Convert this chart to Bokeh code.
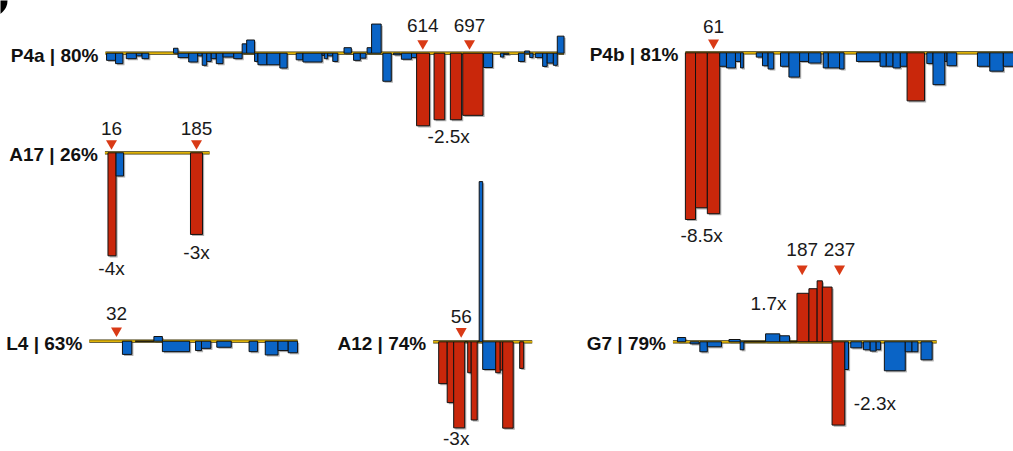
from bokeh.plotting import figure
from bokeh.models import Range1d
from bokeh.core.properties import value
from bokeh.embed import file_html
from bokeh.resources import INLINE

# ---------------------------------------------------------------------------
# Peptide-level changes along each protein: segment start/end (residue),
# log2 fold change and whether the change is significant (1) or not (0).
# ---------------------------------------------------------------------------
names = ["P4a", "P4b", "A17", "A12", "L4", "G7"]
coverage = [80, 81, 26, 74, 63, 79]
seq_first = [50, 11, 3, 0, 0, 14]
seq_last = [865, 600, 211, 198, 245, 367]

p4a_start = [52, 68, 87, 105, 115, 171, 179, 198, 214, 222, 230, 238, 247, 259, 278,
             293, 301, 315, 321, 337, 360, 389, 401, 435, 439, 445, 454, 474, 491, 503,
             515, 523, 543, 562, 576, 594, 603, 634, 663, 685, 722, 752, 758, 784, 795,
             804, 814, 827, 835, 846, 853]
p4a_end = [68, 81, 105, 115, 127, 179, 198, 214, 222, 230, 238, 247, 259, 278, 293,
           301, 315, 321, 337, 360, 373, 401, 435, 439, 445, 454, 463, 487, 503, 513,
           523, 540, 558, 574, 594, 603, 626, 653, 683, 721, 738, 758, 767, 795, 804,
           810, 827, 835, 846, 853, 865]
p4a_lfc = [-0.13, -0.19, -0.10, -0.05, -0.10, 0.09, -0.08, -0.16, -0.05, -0.22,
           -0.15, -0.10, -0.19, -0.07, -0.10, 0.17, 0.24, -0.15, -0.21, -0.21,
           -0.27, -0.12, -0.16, -0.04, -0.10, -0.05, -0.15, 0.10, -0.13, -0.09,
           0.10, 0.53, -0.51, -0.03, -0.11, -0.08, -1.32, -1.21, -1.21, -1.13,
           -0.26, -0.07, -0.02, -0.15, 0.04, -0.08, -0.08, -0.24, -0.18, -0.22, 0.31]
p4a_hit = [0, 0, 0, 0, 0, 0, 0, 0, 0, 0, 0, 0, 0, 0, 0, 0, 0, 0, 0, 0, 0, 0, 0, 0, 0,
           0, 0, 0, 0, 0, 0, 0, 0, 0, 0, 0, 1, 1, 1, 1, 0, 0, 0, 0, 0, 0, 0, 0, 0, 0, 0]
p4a_marks = [614, 697]

p4b_start = [11, 29, 50, 72, 84, 100, 109, 137, 148, 158, 180, 195, 214, 230, 256,
             265, 285, 315, 357, 368, 380, 393, 405, 440, 451, 472, 476, 530, 552, 576]
p4b_end = [29, 50, 72, 84, 100, 109, 114, 148, 158, 168, 195, 214, 230, 252, 265,
           285, 293, 357, 368, 380, 393, 405, 436, 451, 472, 476, 493, 552, 576, 600]
p4b_lfc = [-3.087, -2.87, -2.98, -0.25, -0.28, -0.16, -0.28, -0.08, -0.24, -0.30,
           -0.25, -0.45, -0.16, -0.19, -0.28, -0.28, -0.30, -0.16, -0.25, -0.25,
           -0.28, -0.25, -0.89, -0.20, -0.59, -0.16, -0.24, -0.25, -0.34, -0.25]
p4b_hit = [1, 1, 1, 0, 0, 0, 0, 0, 0, 0, 0, 0, 0, 0, 0,
           0, 0, 0, 0, 0, 0, 0, 1, 0, 0, 0, 0, 0, 0, 0]
p4b_marks = [61]

a17_start = [9, 25, 173]
a17_end = [25, 40, 197]
a17_lfc = [-2.0, -0.45, -1.585]
a17_hit = [1, 0, 1]
a17_marks = [16, 185]

a12_start = [11, 28, 41, 63, 69, 76, 88, 92, 99, 125, 134, 139, 173]
a12_end = [28, 41, 63, 69, 76, 88, 92, 99, 125, 134, 139, 160, 181]
a12_lfc = [-0.77, -1.12, -1.585, 0.0, -0.57, -1.44, 0.0, 2.95, -0.51, -0.57, -0.52,
           -1.59, -0.49]
a12_hit = [1, 1, 1, 0, 1, 1, 0, 0, 0, 1, 1, 1, 1]
a12_marks = [56]

l4_start = [39, 54, 76, 86, 125, 132, 150, 188, 207, 222, 234]
l4_end = [50, 76, 86, 118, 132, 143, 167, 198, 222, 234, 245]
l4_lfc = [-0.24, 0.0, 0.085, -0.19, -0.17, -0.13, -0.11, -0.19, -0.25, -0.17, -0.21]
l4_hit = [0, 0, 0, 0, 0, 0, 0, 0, 0, 0, 0]
l4_marks = [32]

g7_start = [20, 37, 50, 60, 89, 104, 109, 138, 157, 170, 180, 196, 207, 214, 227,
            244, 252, 269, 278, 286, 297, 325, 334, 346]
g7_end = [31, 49, 60, 79, 104, 109, 138, 157, 170, 180, 196, 207, 214, 227, 244,
          249, 267, 278, 286, 292, 325, 334, 342, 361]
g7_lfc = [0.062, -0.03, -0.144, -0.072, 0.033, -0.115, 0.0, 0.115, 0.087, 0.0,
          0.70, 0.766, 0.88, 0.79, -1.2016, -0.40, -0.087, -0.115, -0.134, -0.115,
          -0.418, -0.144, -0.144, -0.26]
g7_hit = [0, 0, 0, 0, 0, 0, 0, 0, 0, 0, 1, 1, 1, 1, 1, 0, 0, 0, 0, 0, 0, 0, 0, 0]
g7_marks = [187, 237]

segments = {
    "P4a": (p4a_start, p4a_end, p4a_lfc, p4a_hit, p4a_marks),
    "P4b": (p4b_start, p4b_end, p4b_lfc, p4b_hit, p4b_marks),
    "A17": (a17_start, a17_end, a17_lfc, a17_hit, a17_marks),
    "A12": (a12_start, a12_end, a12_lfc, a12_hit, a12_marks),
    "L4": (l4_start, l4_end, l4_lfc, l4_hit, l4_marks),
    "G7": (g7_start, g7_end, g7_lfc, g7_hit, g7_marks),
}

# ---------------------------------------------------------------------------
# Track placement on the page: x0 = pixel of residue 0, ppr = pixels per
# residue, y0 = pixel row of the zero line, ppu = pixels per log2 unit,
# arrow / num = lift (px) of the residue marker and of its number's centre.
# ---------------------------------------------------------------------------
W, H = 1013, 451
tracks = {
    "P4a": dict(x0=76.8, ppr=0.5627, y0=52.7, ppu=55.0, arrow=9.7, num=27.5),
    "P4b": dict(x0=678.7, ppr=0.5627, y0=52.3, ppu=54.0, arrow=10.0, num=26.5),
    "A17": dict(x0=102.95, ppr=0.503, y0=152.3, ppu=51.5, arrow=9.3, num=24.0),
    "A12": dict(x0=432.7, ppr=0.5, y0=341.3, ppu=54.3, arrow=10.5, num=25.5),
    "L4": dict(x0=88.8, ppr=0.85, y0=340.7, ppu=55.0, arrow=10.5, num=28.0),
    "G7": dict(x0=662.0, ppr=0.747, y0=341.3, ppu=69.3, arrow=73.0, num=92.0),
}
# fold-change tags: (segment index, residue x, px from bar end to text centre, alignment)
fold_tags = {
    "P4a": [(36, 660, 10.5, "center")],
    "P4b": [(0, 40, 16.5, "center")],
    "A17": [(0, 16, 13.0, "center"), (2, 185, 18.0, "center")],
    "A12": [(2, 46, 11.0, "center")],
    "L4": [],
    "G7": [(11, 166, 14.4, "right"), (14, 256, -21.6, "left")],
}

BLUE = "#0a64c6"
RED = "#c9270b"
ARROW = "#d93a16"
SHADOW = "#9c9c9c"
FONT = value("Liberation Sans")
FSIZE = "19px"


def fold_text(v):
    f = 2 ** abs(v)
    s = f"{f:.1f}".rstrip("0").rstrip(".")
    return ("-" if v < 0 else "") + s + "x"


p = figure(width=W, height=H, x_range=Range1d(0, W), y_range=Range1d(H, 0),
           output_backend="svg", toolbar_location=None, min_border=0,
           x_axis_location=None, y_axis_location=None, outline_line_color=None)
p.grid.visible = False
p.background_fill_color = "white"
p.border_fill_color = "white"

xr, yr = {}, {}
for name in names:
    t = tracks[name]
    xr[name] = Range1d(-t["x0"] / t["ppr"], (W - t["x0"]) / t["ppr"])
    yr[name] = Range1d((t["y0"] - H) / t["ppu"], t["y0"] / t["ppu"])
xr["page"] = Range1d(0, W)
yr["page"] = Range1d(H, 0)
p.extra_x_ranges = xr
p.extra_y_ranges = yr

for i, name in enumerate(names):
    t = tracks[name]
    start, end, lfc, hit, marks = segments[name]
    rn = dict(x_range_name=name, y_range_name=name)
    top = [max(v, 0.0) for v in lfc]
    bottom = [min(v, 0.0) for v in lfc]
    colors = [RED if h else BLUE for h in hit]

    # soft drop shadow of each bar
    dx, dy = 1.6 / t["ppr"], 1.6 / t["ppu"]
    p.quad(left=[s + dx for s in start], right=[e + dx for e in end],
           top=[v - dy for v in top], bottom=[v - dy for v in bottom],
           fill_color=SHADOW, fill_alpha=0.8, line_color=None, **rn)

    # covered sequence: zero line
    p.segment(x0=[seq_first[i]], y0=[0], x1=[seq_last[i]], y1=[0],
              line_color="#3a3000", line_width=3.2, **rn)
    p.segment(x0=[seq_first[i]], y0=[0], x1=[seq_last[i]], y1=[0],
              line_color="#e0b30a", line_width=1.8, **rn)

    p.quad(left=start, right=end, top=top, bottom=bottom,
           fill_color=colors, line_color="#111111", line_width=1, **rn)

    # marked residues
    p.scatter(x=marks, y=[t["arrow"] / t["ppu"]] * len(marks),
              marker="inverted_triangle", size=11, fill_color=ARROW,
              line_color=None, **rn)
    p.text(x=marks, y=[t["num"] / t["ppu"]] * len(marks),
           text=[str(m) for m in marks], text_align="center",
           text_baseline="middle", text_font=FONT, text_font_size=FSIZE,
           text_color="#1a1a1a", **rn)

    # track title
    p.text(x=[seq_first[i]], y=[-2.0 / t["ppu"]],
           text=[f"{name} | {coverage[i]}%"], text_align="right",
           text_baseline="middle", x_offset=-7, text_font=FONT,
           text_font_size=FSIZE, text_font_style="bold", text_color="#111111",
           **rn)

    # fold-change tags
    for seg, xpos, below, align in fold_tags[name]:
        v = lfc[seg]
        p.text(x=[xpos], y=[v - below / t["ppu"]], text=[fold_text(v)],
               text_align=align, text_baseline="middle", text_font=FONT,
               text_font_size=FSIZE, text_color="#1a1a1a", **rn)

# corner of the panel badge
p.scatter(x=[-9], y=[0], size=32, marker="circle", fill_color="black",
          line_color=None, x_range_name="page", y_range_name="page")

open("out.html", "w").write(file_html(p, INLINE))
